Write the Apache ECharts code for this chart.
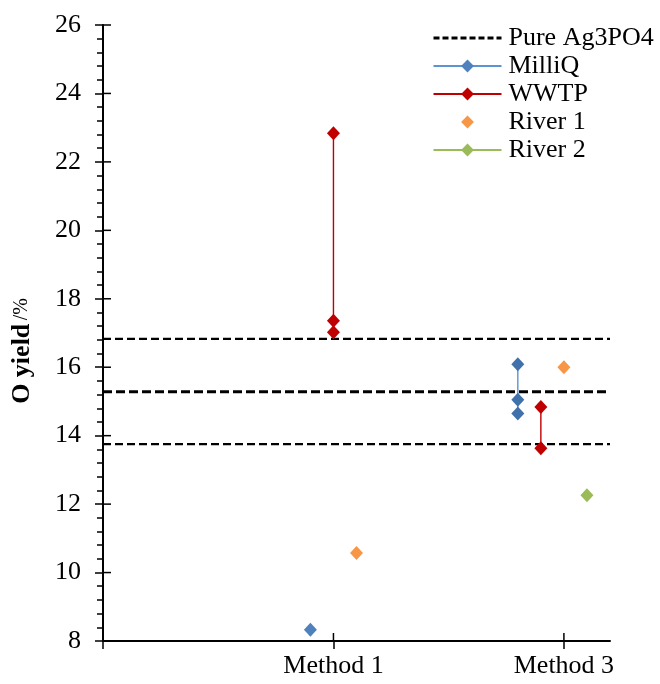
<!DOCTYPE html>
<html>
<head>
<meta charset="utf-8">
<script src="https://cdn.jsdelivr.net/npm/echarts@6/dist/echarts.min.js"></script>
<style>
html,body{margin:0;padding:0;background:#fff;}
#chart{width:660px;height:684px;}
</style>
</head>
<body>
<div id="chart"></div>
<script>
// ---- data ----
var categories = ['Method 1', 'Method 3'];
var categoryX = [1, 2];
var yTicks = [8, 10, 12, 14, 16, 18, 20, 22, 24, 26];
var pureLevels = [16.83, 15.28, 13.75];
var pureX = [0, 2.2];
var milliqM1X = [0.9];
var milliqM1Y = [8.33];
var milliqM3X = [1.8, 1.8, 1.8];
var milliqM3Y = [16.09, 15.05, 14.65];
var wwtpM1X = [1, 1, 1];
var wwtpM1Y = [22.84, 17.36, 17.02];
var wwtpM3X = [1.9, 1.9];
var wwtpM3Y = [14.84, 13.63];
var river1X = [1.1, 2.0];
var river1Y = [10.57, 16.0];
var river2X = [2.1];
var river2Y = [12.26];

function zip(xs, ys) { return xs.map(function (x, i) { return [x, ys[i]]; }); }

var FONT = '"Liberation Serif", "Times New Roman", serif';
var FS = 26;
var blueM = '#4171ab', blueL = '#5b93d3';
var red = '#c00000';
var orange = '#f79646';
var green = '#9bbb59';

var series = [];
pureLevels.forEach(function (v, i) {
  series.push({
    name: 'Pure Ag3PO4', type: 'line', showSymbol: false, symbol: 'none', silent: true,
    data: zip(pureX, [v, v]),
    lineStyle: { color: '#000', width: i === 1 ? 3 : 2.2, type: i === 1 ? [9, 4] : [8, 4] },
    itemStyle: { color: '#000' }, z: 1
  });
});
function pts(name, data, lineColor, markerColor, showLine) {
  return {
    name: name, type: 'line', data: data,
    symbol: 'diamond', symbolSize: [13, 14],
    lineStyle: { color: lineColor, width: 1.4, opacity: showLine ? 1 : 0 },
    itemStyle: { color: markerColor, opacity: 1 },
    z: 3
  };
}
series.push(pts('MilliQ', zip(milliqM1X, milliqM1Y), blueL, '#4f81bd', true));
series.push(pts('MilliQ', zip(milliqM3X, milliqM3Y), blueL, blueM, true));
series.push(pts('WWTP', zip(wwtpM1X, wwtpM1Y), red, red, true));
series.push(pts('WWTP', zip(wwtpM3X, wwtpM3Y), red, red, true));
series.push(pts('River 1', zip(river1X, river1Y), orange, orange, false));
series.push(pts('River 2', zip(river2X, river2Y), green, green, true));

// inner halves of the crossing major ticks (positions come from the axis scales)
var TICK_IN = 8;
series.push({
  type: 'custom', silent: true, z: 5, clip: false,
  data: yTicks.map(function (v) { return [pureX[0], v]; }),
  renderItem: function (params, api) {
    var p = api.coord([api.value(0), api.value(1)]);
    return { type: 'line', shape: { x1: p[0], y1: p[1], x2: p[0] + TICK_IN, y2: p[1] },
             style: { stroke: '#000', lineWidth: 1.5 } };
  }
});
series.push({
  type: 'custom', silent: true, z: 5, clip: false,
  data: [pureX[0]].concat(categoryX).map(function (x) { return [x, yTicks[0]]; }),
  renderItem: function (params, api) {
    var p = api.coord([api.value(0), api.value(1)]);
    return { type: 'line', shape: { x1: p[0], y1: p[1], x2: p[0], y2: p[1] - TICK_IN },
             style: { stroke: '#000', lineWidth: 1.5 } };
  }
});

var chart = echarts.init(document.getElementById('chart'));
chart.setOption({
  animation: false,
  backgroundColor: '#fff',
  grid: { left: 103, right: 50, top: 25, bottom: 43, containLabel: false },
  legend: {
    data: [
      { name: 'Pure Ag3PO4', itemStyle: { opacity: 0 }, lineStyle: { width: 3, type: [6, 3] } },
      { name: 'MilliQ' }, { name: 'WWTP' },
      { name: 'River 1' }, { name: 'River 2' }
    ],
    orient: 'vertical', left: 432, top: 25, padding: 0,
    itemWidth: 68, itemHeight: 16, itemGap: 2,
    textStyle: { fontFamily: FONT, fontSize: FS, color: '#000', lineHeight: 26, padding: [0, 0, 0, 2] }
  },
  xAxis: {
    type: 'value', min: pureX[0], max: pureX[1], interval: 1,
    axisLine: { show: true, lineStyle: { color: '#000', width: 2 } },
    axisTick: { show: true, length: 8, customValues: [pureX[0]].concat(categoryX), lineStyle: { color: '#000', width: 1.5 } },
    axisLabel: {
      customValues: categoryX, margin: 12,
      fontFamily: FONT, fontSize: FS, color: '#000',
      formatter: function (v) { var i = categoryX.indexOf(v); return i >= 0 ? categories[i] : ''; }
    },
    splitLine: { show: false }
  },
  yAxis: {
    type: 'value', min: yTicks[0], max: yTicks[yTicks.length - 1], interval: 2,
    name: '{b|O yield} {n|/%}', nameLocation: 'middle', nameGap: 68, nameRotate: 90,
    nameTextStyle: {
      padding: [0, 36, 0, 0],
      rich: {
        b: { fontFamily: FONT, fontSize: FS, fontWeight: 'bold', color: '#000' },
        n: { fontFamily: FONT, fontSize: 20, color: '#000' }
      }
    },
    axisLine: { show: true, lineStyle: { color: '#000', width: 2 } },
    axisTick: { show: true, length: 8, lineStyle: { color: '#000', width: 1.5 } },
    minorTick: { show: true, splitNumber: 5, length: 6, lineStyle: { color: '#000', width: 1.5 } },
    axisLabel: { margin: 22, fontFamily: FONT, fontSize: FS, color: '#000' },
    splitLine: { show: false }, minorSplitLine: { show: false }
  },
  series: series
});
</script>
</body>
</html>
